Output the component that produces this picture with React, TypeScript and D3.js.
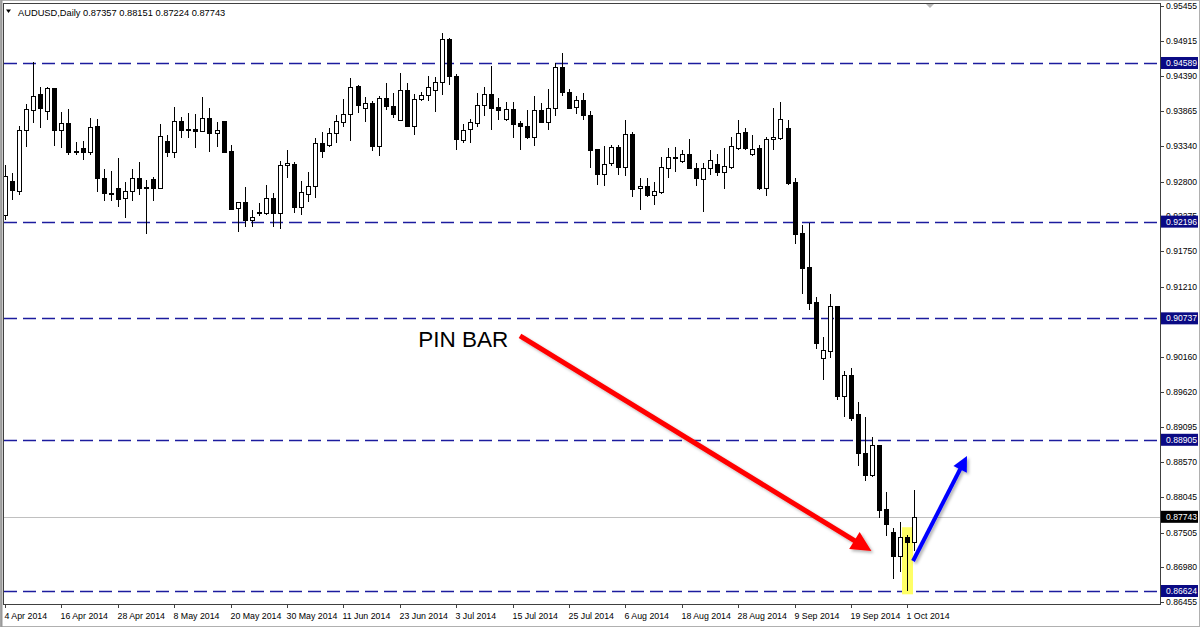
import React from "react";
import * as d3 from "d3";

// ---- Data ----
const opens = [
  0.92296, 0.92809, 0.92658, 0.93578, 0.9388, 0.94116, 0.93865, 0.94207, 0.93578, 0.93679,
  0.93261, 0.93312, 0.93241, 0.93644, 0.92859, 0.92633, 0.92708, 0.92547, 0.92658, 0.92849,
  0.92723, 0.92839, 0.92708, 0.93412, 0.93241, 0.93714, 0.93598, 0.93598, 0.93563, 0.93764,
  0.93528, 0.93714, 0.93261, 0.92406, 0.92486, 0.9222, 0.92346, 0.92321, 0.92557, 0.92321,
  0.93045, 0.93065, 0.92421, 0.92612, 0.92733, 0.93377, 0.93352, 0.93528, 0.93704, 0.93819,
  0.94242, 0.93915, 0.9398, 0.93337, 0.94056, 0.9394, 0.93729, 0.94182, 0.93638, 0.94046,
  0.94106, 0.94182, 0.94297, 0.94946, 0.94398, 0.93427, 0.93588, 0.93688, 0.93955, 0.94116,
  0.9392, 0.93749, 0.939, 0.93678, 0.93643, 0.93477, 0.9388, 0.93704, 0.93905, 0.94534,
  0.94156, 0.9392, 0.94031, 0.93804, 0.93286, 0.92914, 0.93075, 0.93316, 0.93014, 0.93517,
  0.92698, 0.92733, 0.92597, 0.92647, 0.92999, 0.9317, 0.93115, 0.93211, 0.93009, 0.92838,
  0.92999, 0.9306, 0.92949, 0.93025, 0.93311, 0.93543, 0.93211, 0.93301, 0.92708, 0.93437,
  0.93462, 0.93613, 0.92798, 0.92019, 0.91515, 0.90987, 0.90142, 0.90243, 0.90922, 0.89569,
  0.89881, 0.89287, 0.88699, 0.88372, 0.88825, 0.87859, 0.87507, 0.87155, 0.87441, 0.87357,
];
const highs = [
  0.9305, 0.92924, 0.93644, 0.93966, 0.94599, 0.94232, 0.94232, 0.94217, 0.93855, 0.9389,
  0.93402, 0.93412, 0.93764, 0.93744, 0.9299, 0.9296, 0.93151, 0.92799, 0.9299, 0.931,
  0.92824, 0.92874, 0.93664, 0.93503, 0.93925, 0.93779, 0.9384, 0.93815, 0.94081, 0.93915,
  0.93704, 0.93714, 0.93352, 0.92497, 0.92713, 0.92371, 0.92471, 0.92748, 0.92622, 0.9311,
  0.93276, 0.931, 0.92813, 0.92949, 0.93452, 0.93553, 0.93613, 0.93804, 0.94041, 0.94358,
  0.94257, 0.94081, 0.94021, 0.94091, 0.94292, 0.94131, 0.94433, 0.94282, 0.94121, 0.94156,
  0.94393, 0.94383, 0.95037, 0.94961, 0.94418, 0.93668, 0.93739, 0.94141, 0.94222, 0.94544,
  0.94056, 0.94005, 0.94005, 0.93719, 0.9388, 0.94091, 0.9399, 0.94191, 0.94594, 0.94735,
  0.94191, 0.94096, 0.94141, 0.93864, 0.93286, 0.93336, 0.93351, 0.93351, 0.93729, 0.93553,
  0.92849, 0.92849, 0.92798, 0.93165, 0.93301, 0.93326, 0.93276, 0.93437, 0.93075, 0.93075,
  0.93276, 0.93211, 0.93301, 0.93477, 0.93729, 0.93603, 0.93502, 0.93352, 0.93477, 0.93905,
  0.94005, 0.93729, 0.92859, 0.92144, 0.92169, 0.91063, 0.90459, 0.91098, 0.90922, 0.89941,
  0.89991, 0.89478, 0.89252, 0.8895, 0.88825, 0.8811, 0.87567, 0.87668, 0.87476, 0.88151,
];
const lows = [
  0.9222, 0.92522, 0.92597, 0.93327, 0.93679, 0.93613, 0.93729, 0.93342, 0.93302, 0.93201,
  0.93201, 0.93126, 0.93201, 0.92648, 0.92507, 0.92507, 0.92421, 0.92255, 0.92507, 0.92597,
  0.92004, 0.92507, 0.92688, 0.93176, 0.93161, 0.93452, 0.93462, 0.93302, 0.93543, 0.93241,
  0.93327, 0.93226, 0.92386, 0.92044, 0.92119, 0.92109, 0.9228, 0.92295, 0.92109, 0.92079,
  0.92849, 0.92321, 0.92295, 0.92497, 0.92547, 0.9315, 0.93327, 0.93377, 0.93618, 0.93417,
  0.9383, 0.93704, 0.93266, 0.93186, 0.9388, 0.93754, 0.93719, 0.93628, 0.93503, 0.94021,
  0.94021, 0.93855, 0.94106, 0.94257, 0.93276, 0.93387, 0.93377, 0.93618, 0.93794, 0.93578,
  0.93729, 0.93719, 0.93462, 0.93276, 0.93437, 0.93336, 0.93688, 0.93578, 0.93789, 0.94091,
  0.9389, 0.93819, 0.93729, 0.93, 0.92748, 0.92733, 0.93035, 0.92899, 0.92884, 0.92572,
  0.92371, 0.92562, 0.92446, 0.92612, 0.92849, 0.92949, 0.93075, 0.92984, 0.92738, 0.92335,
  0.92899, 0.92889, 0.92688, 0.92989, 0.93276, 0.93276, 0.93191, 0.92672, 0.92587, 0.93276,
  0.93427, 0.92748, 0.91853, 0.91098, 0.90862, 0.90273, 0.89805, 0.90132, 0.89504, 0.89252,
  0.89187, 0.88513, 0.88281, 0.88347, 0.87728, 0.87456, 0.86812, 0.86913, 0.86624, 0.87224,
];
const closes = [
  0.92889, 0.92673, 0.93578, 0.9389, 0.94096, 0.93915, 0.94207, 0.93578, 0.93679, 0.93251,
  0.93246, 0.93241, 0.93629, 0.92859, 0.92623, 0.92618, 0.92537, 0.92658, 0.92859, 0.92708,
  0.92708, 0.92708, 0.93488, 0.93241, 0.93714, 0.93578, 0.93583, 0.93563, 0.93764, 0.93528,
  0.93578, 0.93251, 0.92386, 0.92486, 0.9222, 0.9226, 0.92331, 0.92557, 0.92321, 0.9305,
  0.93085, 0.92421, 0.92637, 0.92733, 0.93377, 0.93266, 0.93528, 0.93714, 0.93819, 0.94232,
  0.93955, 0.9398, 0.93337, 0.94056, 0.9394, 0.93814, 0.94182, 0.93638, 0.94046, 0.94106,
  0.94232, 0.94297, 0.94946, 0.94398, 0.93437, 0.93578, 0.93704, 0.93955, 0.94116, 0.93915,
  0.9388, 0.939, 0.93668, 0.93643, 0.93477, 0.9388, 0.93704, 0.93905, 0.94534, 0.94156,
  0.93905, 0.94031, 0.93804, 0.93276, 0.92914, 0.93065, 0.93316, 0.93014, 0.93517, 0.92682,
  0.92733, 0.92597, 0.92662, 0.93025, 0.93165, 0.93155, 0.93211, 0.92999, 0.92848, 0.92999,
  0.93125, 0.92949, 0.9304, 0.93341, 0.93528, 0.93311, 0.93291, 0.92708, 0.93442, 0.93467,
  0.93744, 0.92773, 0.92003, 0.915, 0.90962, 0.90359, 0.90258, 0.90922, 0.89569, 0.89881,
  0.89237, 0.88699, 0.88372, 0.88825, 0.87844, 0.87628, 0.87155, 0.87441, 0.87366, 0.87743,
];

const dateLabels = [
  "4 Apr 2014", "16 Apr 2014", "28 Apr 2014", "8 May 2014", "20 May 2014", "30 May 2014",
  "11 Jun 2014", "23 Jun 2014", "3 Jul 2014", "15 Jul 2014", "25 Jul 2014", "6 Aug 2014",
  "18 Aug 2014", "28 Aug 2014", "9 Sep 2014", "19 Sep 2014", "1 Oct 2014",
];
const barsPerDateLabel = 8;

const priceTicks = [
  0.95455, 0.94915, 0.9439, 0.93865, 0.9334, 0.928, 0.92275, 0.9175, 0.9121,
  0.9016, 0.8962, 0.89095, 0.8857, 0.88045, 0.87505, 0.8698, 0.86455,
];
const levelLines = [0.94589, 0.92196, 0.90737, 0.88905, 0.86624];
const lastPrice = 0.87743;
const headerSymbol = "AUDUSD,Daily";
const headerOHLC = [0.87357, 0.88151, 0.87224, 0.87743];
const pinIndex = 128;
const annotationText = "PIN BAR";
// annotation anchors in data space: [bar index, price]
const textAnchor = [58.6, 0.90305];
const redArrow = [[73.05, 0.90471], [122.9, 0.87227]];
const blueArrow = [[128.8, 0.87077], [136.45, 0.88661]];

// ---- Layout ----
const W = 1200;
const H = 627;
const plotLeft = 3;
const plotRight = 1160;
const plotTop = 3;
const plotBottom = 604;
const FONT = "'Liberation Sans', Arial, sans-serif";

const x = d3.scaleLinear().domain([0, 129]).range([5, 5 + 7.05 * 129]);
const y = d3.scaleLinear().domain([0.86428, 0.95494]).range([plotBottom, plotTop]);

function arrowPath(p0: number[], p1: number[], headLen: number, headHalf: number) {
  const x0 = x(p0[0]), y0 = y(p0[1]), x1 = x(p1[0]), y1 = y(p1[1]);
  const dx = x1 - x0, dy = y1 - y0;
  const len = Math.hypot(dx, dy);
  const ux = dx / len, uy = dy / len;
  const bx = x1 - ux * headLen, by = y1 - uy * headLen;
  const nx = -uy, ny = ux;
  return {
    shaft: d3.line()([[x0, y0], [bx + ux * 2, by + uy * 2]]) as string,
    head: `M${x1},${y1}L${bx + nx * headHalf},${by + ny * headHalf}L${bx - nx * headHalf},${by - ny * headHalf}Z`,
  };
}

export default function App() {
  const fmt = d3.format(".5f");
  const candles = opens.map((o, i) => ({ o, h: highs[i], l: lows[i], c: closes[i], i }));
  const red = arrowPath(redArrow[0], redArrow[1], 20, 10);
  const blue = arrowPath(blueArrow[0], blueArrow[1], 15, 7.5);
  const pinX = Math.round(x(pinIndex));

  return (
    <svg
      width={W}
      height={H}
      style={{ position: "absolute", left: 0, top: 0, background: "#fff" }}
      fontFamily={FONT}
    >
      <defs>
        <clipPath id="plot">
          <rect x={plotLeft + 1} y={plotTop + 1} width={plotRight - plotLeft - 1} height={plotBottom - plotTop - 1} />
        </clipPath>
        <filter id="shadow" x="-10%" y="-10%" width="130%" height="130%">
          <feDropShadow dx="2" dy="2" stdDeviation="1.5" floodColor="#000" floodOpacity="0.3" />
        </filter>
      </defs>
      <rect x={0.5} y={0.5} width={W - 1} height={H - 1} fill="#fff" stroke="#b0b0b0" />

      {/* plot frame */}
      <rect x={plotLeft + 0.5} y={plotTop + 0.5} width={plotRight - plotLeft} height={plotBottom - plotTop} fill="#fff" stroke="#404040" />
      <line x1={1.5} x2={1.5} y1={0} y2={H} stroke="#9a9a9a" strokeWidth={2} />

      {/* header */}
      <path d="M6,9.5L11,9.5L8.5,13Z" fill="#000" />
      <text x={18} y={16} fontSize={9.3} fill="#000">
        {headerSymbol + "  " + headerOHLC.map(fmt).join(" ")}
      </text>
      <path d="M926,4L934,4L930,8Z" fill="#b8b8b8" />

      <g clipPath="url(#plot)">
        {/* last price line */}
        <line x1={plotLeft} x2={plotRight} y1={Math.round(y(lastPrice)) + 0.5} y2={Math.round(y(lastPrice)) + 0.5} stroke="#c0c0c0" />
        {/* level lines */}
        {levelLines.map((p) => (
          <line key={p} x1={plotLeft + 1} x2={plotRight} y1={Math.round(y(p)) + 0.5} y2={Math.round(y(p)) + 0.5}
            stroke="#1c1c9e" strokeWidth={1.4} strokeDasharray="13,6" />
        ))}
        {/* pin bar highlight */}
        <rect x={pinX - 5} y={y(highs[pinIndex] + 0.0011)} width={11} height={y(lows[pinIndex] - 0.0005) - y(highs[pinIndex] + 0.0011)} fill="#ffff66" />
        {/* candles */}
        {candles.map((d) => {
          const cx = Math.round(x(d.i)) + 0.5;
          const yo = Math.round(y(d.o));
          const yc = Math.round(y(d.c));
          const top = Math.min(yo, yc);
          const bot = Math.max(yo, yc);
          const bull = d.c >= d.o;
          return (
            <g key={d.i}>
              <line x1={cx} x2={cx} y1={Math.round(y(d.h))} y2={Math.round(y(d.l))} stroke="#000" />
              {bot - top < 1 ? (
                <line x1={cx - 2.5} x2={cx + 2.5} y1={top + 0.5} y2={top + 0.5} stroke="#000" strokeWidth={1.5} />
              ) : (
                <rect x={cx - 2} y={top + 0.5} width={4} height={bot - top} fill={bull ? "#fff" : "#000"} stroke="#000" />
              )}
            </g>
          );
        })}
      </g>

      {/* date axis */}
      {dateLabels.map((lab, k) => {
        const tx = Math.round(x(k * barsPerDateLabel)) + 0.5;
        return (
          <g key={lab}>
            <line x1={tx} x2={tx} y1={plotBottom} y2={plotBottom + 4} stroke="#404040" />
            <text x={tx - 1} y={619} fontSize={8.8} fill="#000">{lab}</text>
          </g>
        );
      })}

      {/* price axis */}
      {priceTicks.map((p) => (
        <g key={p}>
          <line x1={plotRight} x2={plotRight + 4} y1={Math.round(y(p)) + 0.5} y2={Math.round(y(p)) + 0.5} stroke="#404040" />
          <text x={plotRight + 6} y={y(p) + 3} fontSize={8.6} fill="#000">{fmt(p)}</text>
        </g>
      ))}
      {levelLines.map((p) => (
        <g key={"lb" + p}>
          <rect x={plotRight + 1} y={y(p) - 6} width={37} height={12} fill="#0a0a84" />
          <text x={plotRight + 6} y={y(p) + 3} fontSize={8.6} fill="#fff">{fmt(p)}</text>
        </g>
      ))}
      <rect x={plotRight + 1} y={y(lastPrice) - 6} width={37} height={12} fill="#000" />
      <text x={plotRight + 6} y={y(lastPrice) + 3} fontSize={8.6} fill="#fff">{fmt(lastPrice)}</text>

      {/* annotations */}
      <text x={x(textAnchor[0])} y={y(textAnchor[1])} fontSize={22.5} fill="#000">{annotationText}</text>
      <g filter="url(#shadow)">
        <path d={red.shaft} stroke="#ff0000" strokeWidth={5} fill="none" />
        <path d={red.head} fill="#ff0000" />
      </g>
      <g filter="url(#shadow)">
        <path d={blue.shaft} stroke="#0000ff" strokeWidth={4} fill="none" />
        <path d={blue.head} fill="#0000ff" />
      </g>
    </svg>
  );
}
